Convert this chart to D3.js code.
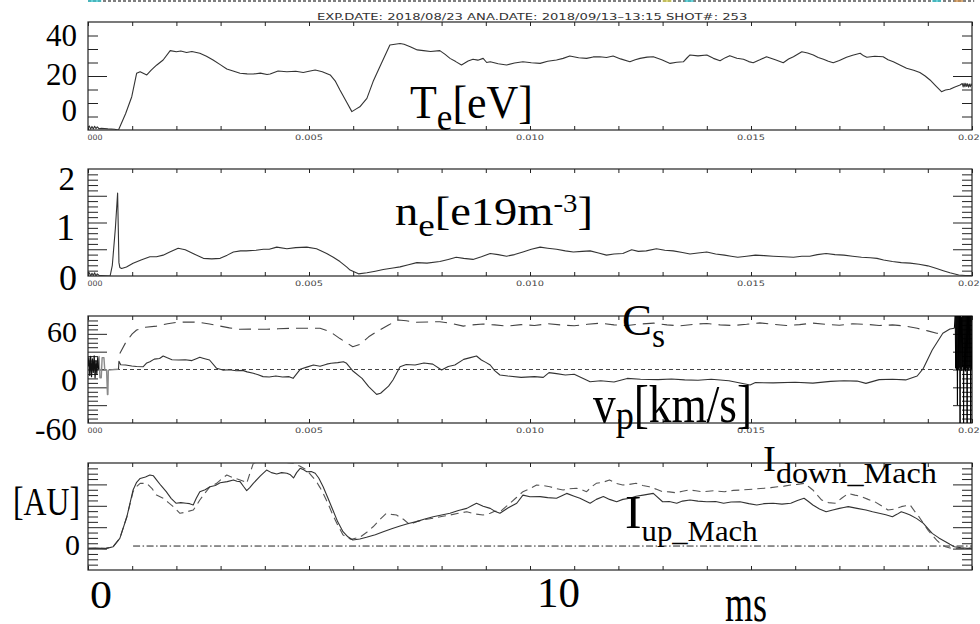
<!DOCTYPE html>
<html><head><meta charset="utf-8">
<script src="https://cdn.jsdelivr.net/npm/d3@7"></script>
<style>html,body{margin:0;padding:0;background:#fff;} svg{display:block;}</style>
</head><body>
<svg id="chart" width="980" height="624"></svg>
<script>
// ---------------- DATA ----------------
const headerText = "EXP.DATE: 2018/08/23 ANA.DATE: 2018/09/13\u201313:15   SHOT#: 253";
const xDomainMs = [0, 20];
const xMinorTicks = [0,1,2,3,4,5,6,7,8,9,10,11,12,13,14,15,16,17,18,19,20];
const xMajorTicks = [0,5,10,15,20];
// first label is cut by the frame in the original: only "000" shows
const xTickLabels = ["000","0.005","0.010","0.015","0.020"];

// panel ranges / ticks
const teRange = [-10, 50], teMinor = [-2.5,5,12.5,27.5,35,42.5], teMajor = [20];
const neRange = [0, 2], neMinor = [0.1,0.2,0.3,0.4,0.6,0.7,0.8,0.9,1.1,1.2,1.3,1.4,1.6,1.7,1.8,1.9], neMajor = [0.5,1,1.5];
const vpRange = [-90, 90], vpMinor = [-82.5,-75,-67.5,-52.5,-45,-37.5,-22.5,-15,-7.5,7.5,15,22.5,37.5,45,52.5,67.5,75,82.5], vpMajor = [-60,-30,0,30,60];
const iRange = [-1, 4], iMinor = [-0.75,-0.5,-0.25,0.25,0.5,0.75,1.25,1.5,1.75,2.25,2.5,2.75,3.25,3.5,3.75], iMajor = [0,1,2,3];

// T_e [eV] vs time [ms]
const teSeries = [[0,-9],[0.03,-7.8],[0.06,-9.5],[0.09,-8],[0.12,-9.4],[0.15,-7.9],[0.18,-9.2],[0.21,-8.3],[0.25,-9.3],[0.3,-9.1],[0.45,-9.4],[0.6,-9.6],[0.69,-10],[0.85,-1],[0.99,8.5],[1.10,21.5],[1.18,22.4],[1.33,20.6],[1.43,23.3],[1.55,26],[1.70,28.9],[1.86,34.1],[2.0,33.5],[2.1,33.9],[2.23,33.1],[2.35,33.6],[2.53,32.6],[2.68,31],[2.83,28.9],[3.0,26.2],[3.14,23.9],[3.3,22.6],[3.44,21.5],[3.6,21.2],[3.74,21.1],[3.9,21.6],[4.05,20.8],[4.12,21.1],[4.3,22.8],[4.5,22.4],[4.7,22.6],[4.87,21.9],[5.0,22.6],[5.14,23.3],[5.3,22.4],[5.48,20.6],[5.6,17],[5.70,12.2],[5.85,5.5],[5.97,0.2],[6.06,1.6],[6.15,2.9],[6.31,7.6],[6.45,16.9],[6.6,25],[6.83,37.2],[7.06,38.1],[7.15,37.6],[7.29,36.3],[7.45,34.5],[7.59,34.1],[7.75,33.6],[7.96,34.1],[8.08,32],[8.19,29.8],[8.32,28],[8.45,26.1],[8.6,28.3],[8.71,29.3],[8.82,28.8],[8.94,29.8],[9.02,27.5],[9.10,27.9],[9.28,26.8],[9.47,26.1],[9.65,27.2],[9.84,27.9],[10.03,27.4],[10.23,27],[10.4,28.2],[10.6,28.9],[10.75,29.8],[10.9,31.1],[11.1,30.1],[11.28,29.8],[11.43,30.6],[11.58,30.7],[11.73,30.3],[11.88,31.1],[12.05,29.5],[12.26,27.9],[12.38,29],[12.49,29.8],[12.65,30.5],[12.79,30.7],[12.98,29],[13.17,27],[13.32,27.6],[13.47,27.9],[13.55,30],[13.62,31.7],[13.8,31.2],[14.0,31.7],[14.15,29.8],[14.3,28.5],[14.42,30.2],[14.52,31.3],[14.68,29.9],[14.83,29.3],[14.95,28],[15.05,27.4],[15.2,29],[15.35,30.7],[15.55,29],[15.73,27.4],[15.85,29.4],[15.96,30.7],[16.15,33.5],[16.28,32.8],[16.41,31.7],[16.52,30.3],[16.64,29.3],[16.75,28.2],[16.86,27.4],[17.0,28.6],[17.16,30.4],[17.3,31.5],[17.47,32.6],[17.55,31.2],[17.62,30.4],[17.8,31],[17.99,30.7],[18.1,29],[18.22,27.9],[18.38,26],[18.52,24.3],[18.68,23.2],[18.82,21.9],[18.94,20],[19.05,17.8],[19.18,14.5],[19.31,11.3],[19.40,12.2],[19.50,12.6],[19.6,13.8],[19.73,15],[19.78,15.8],[19.8,13.9],[19.82,16],[19.84,14],[19.86,15.9],[19.88,14.2],[19.9,15.7],[19.92,13.8],[19.94,15.5],[19.96,14],[19.98,15.6],[20,14.6]];

// n_e [e19 m^-3]
const neSeries = [[0,0.02],[0.03,0.06],[0.06,0.0],[0.09,0.05],[0.12,0.01],[0.15,0.06],[0.18,0.0],[0.21,0.04],[0.25,0.01],[0.3,0.01],[0.5,0.0],[0.55,0.2],[0.62,0.9],[0.67,1.55],[0.70,0.25],[0.72,0.16],[0.76,0.14],[0.87,0.17],[1.02,0.24],[1.2,0.3],[1.40,0.36],[1.55,0.36],[1.70,0.39],[1.85,0.45],[2.04,0.52],[2.2,0.49],[2.4,0.41],[2.61,0.33],[2.8,0.32],[2.99,0.33],[3.15,0.39],[3.29,0.45],[3.45,0.47],[3.58,0.47],[3.8,0.48],[3.97,0.50],[4.1,0.50],[4.27,0.54],[4.5,0.51],[4.7,0.53],[4.95,0.54],[5.17,0.51],[5.40,0.42],[5.55,0.35],[5.70,0.27],[5.85,0.17],[5.93,0.11],[6.12,0.04],[6.31,0.06],[6.5,0.09],[6.68,0.12],[6.9,0.15],[7.06,0.17],[7.25,0.21],[7.44,0.25],[7.67,0.24],[7.96,0.27],[8.15,0.31],[8.33,0.35],[8.5,0.33],[8.71,0.31],[8.9,0.36],[9.1,0.42],[9.28,0.40],[9.47,0.37],[9.65,0.40],[9.84,0.45],[10.03,0.50],[10.23,0.54],[10.4,0.52],[10.6,0.50],[10.8,0.47],[10.98,0.45],[11.18,0.46],[11.36,0.47],[11.55,0.43],[11.73,0.39],[11.9,0.41],[12.1,0.42],[12.3,0.49],[12.45,0.46],[12.63,0.47],[12.86,0.51],[13.05,0.48],[13.24,0.47],[13.45,0.44],[13.62,0.41],[13.8,0.43],[14.0,0.45],[14.2,0.41],[14.4,0.39],[14.55,0.37],[14.7,0.35],[14.9,0.37],[15.1,0.39],[15.3,0.38],[15.5,0.37],[15.75,0.36],[15.96,0.35],[16.15,0.37],[16.33,0.37],[16.5,0.40],[16.7,0.42],[16.9,0.40],[17.1,0.39],[17.3,0.37],[17.5,0.35],[17.7,0.34],[17.85,0.33],[18.0,0.30],[18.2,0.27],[18.4,0.25],[18.6,0.24],[18.8,0.22],[19.0,0.19],[19.2,0.14],[19.35,0.10],[19.5,0.06],[19.7,0.02],[19.85,0.01],[20,0.01]];

// v_p [km/s] (solid) and C_s (dashed)
const vpSeries = [[0.69,0.5],[0.70,14],[0.74,8],[0.85,7.6],[0.99,6],[1.1,5],[1.25,4.7],[1.33,11],[1.40,13],[1.5,17.5],[1.62,18.5],[1.70,22.7],[1.78,20],[1.9,16.5],[2.05,16],[2.2,16.5],[2.35,15],[2.45,18],[2.53,20.5],[2.6,19],[2.75,16],[2.91,2],[3.05,-1],[3.2,-0.5],[3.35,-2],[3.5,-1.5],[3.6,-4],[3.74,-6.4],[3.85,-9],[3.96,-12],[4.1,-12.5],[4.25,-11],[4.4,-12.5],[4.55,-12],[4.64,-14.9],[4.80,0.3],[4.95,4],[5.1,7.6],[5.25,5.5],[5.4,9],[5.5,10.4],[5.65,11.5],[5.78,13],[5.85,10.4],[6.0,-3],[6.2,-15],[6.35,-28.9],[6.53,-41.8],[6.62,-40],[6.8,-28],[6.9,-17.7],[7.06,4.7],[7.2,8.5],[7.4,7.6],[7.6,11],[7.8,9],[8.0,-0.8],[8.15,5],[8.3,7.6],[8.5,17],[8.65,20],[8.79,22.7],[8.9,16],[9.0,12],[9.10,7.6],[9.2,-2],[9.32,-9.3],[9.5,-11],[9.8,-13.2],[10.1,-12],[10.3,-13.2],[10.43,-5.3],[10.6,-7],[10.8,-9.3],[11.0,-8],[11.36,-20.5],[11.6,-19],[11.9,-21],[12.2,-15],[12.5,-16.5],[12.9,-17],[13.2,-16],[13.5,-17.5],[13.8,-18],[14.1,-16.5],[14.5,-19],[14.98,-26],[15.1,-22],[15.5,-22.5],[16.0,-21.5],[16.4,-23],[16.8,-20],[17.1,-18.8],[17.4,-19.5],[17.6,-23.3],[17.9,-17],[18.2,-16.5],[18.5,-17.5],[18.76,-10.9],[18.9,2],[19.1,32.8],[19.34,60.9],[19.5,68],[19.6,69.3]];
const vpStartNoise = [[0,5],[0.02,20],[0.04,-10],[0.06,22],[0.08,-12],[0.1,18],[0.12,-5],[0.14,23],[0.16,-14],[0.18,15],[0.2,-8],[0.22,20],[0.24,0]];
const vpStartGray = [[0.24,0],[0.25,22],[0.27,-14],[0.3,-14],[0.32,20],[0.36,20],[0.38,-1],[0.42,-1],[0.44,-42],[0.45,-42],[0.46,-1],[0.6,0],[0.69,0.5]];
const vpEndNoise = [[19.6,69.3],[19.62,90],[19.63,2],[19.64,90],[19.65,-1],[19.66,90],[19.67,-60],[19.68,90],[19.69,0],[19.70,90],[19.71,3],[19.72,90],[19.73,-90],[19.74,90],[19.75,1],[19.76,88],[19.77,-2],[19.78,90],[19.79,4],[19.80,90],[19.81,-90],[19.82,90],[19.83,0],[19.84,90],[19.85,-3],[19.86,90],[19.87,2],[19.88,90],[19.89,-90],[19.90,90],[19.91,0],[19.92,90],[19.93,-2],[19.94,90],[19.95,3],[19.96,90],[19.97,-90],[19.98,90],[19.99,0]];
const csSeries = [[0.72,27],[0.85,45],[1.0,60],[1.1,66.5],[1.3,71],[1.55,73],[1.8,77],[2.0,79.4],[2.25,80],[2.5,79.5],[2.75,76.5],[2.99,73],[3.2,70],[3.44,67.6],[3.7,68],[4.04,67.6],[4.3,68.5],[4.57,69.3],[4.9,69.5],[5.25,69.3],[5.48,63.6],[5.7,52],[5.99,38.4],[6.15,42],[6.35,55],[6.53,63.6],[6.8,75],[7.02,83.3],[7.2,82],[7.43,79.4],[7.7,80],[7.96,80.4],[8.2,78],[8.49,73],[8.7,75],[8.94,76.5],[9.2,75],[9.5,73],[9.8,75.5],[10.1,74],[10.4,77],[10.7,75],[11.0,73.5],[11.3,76],[11.6,78],[11.9,75],[12.2,74],[12.5,76.5],[12.8,78],[13.1,75],[13.4,73.5],[13.7,76],[14.0,77.5],[14.3,75],[14.6,74],[14.9,76],[15.2,78.5],[15.5,76],[15.8,74],[16.1,75.5],[16.4,78],[16.7,76],[17.0,74.5],[17.3,77],[17.6,76],[17.9,74],[18.2,75],[18.5,73],[18.76,69.3],[19.0,65],[19.2,60.9],[19.35,60]];
const vpZeroLine = [[0,0],[20,0]];

// Mach probe currents [AU]
const iUpSeries = [[0,0.01],[0.2,0.02],[0.4,0.0],[0.57,0.09],[0.72,0.48],[0.88,1.49],[1.02,2.74],[1.1,3.1],[1.18,3.28],[1.3,3.35],[1.40,3.44],[1.48,3.4],[1.55,3.21],[1.65,2.95],[1.77,2.66],[1.88,2.35],[1.99,2.12],[2.1,2.15],[2.22,2.12],[2.3,2.1],[2.38,2.04],[2.45,2.35],[2.53,2.66],[2.65,2.75],[2.76,2.89],[2.88,2.95],[2.99,3.08],[3.15,3.13],[3.29,3.21],[3.37,3.15],[3.44,3.13],[3.52,2.9],[3.59,2.71],[3.66,2.85],[3.74,3.05],[3.9,3.4],[4.04,3.67],[4.15,3.55],[4.27,3.49],[4.38,3.55],[4.5,3.52],[4.58,3.45],[4.65,3.3],[4.72,3.55],[4.8,3.75],[4.88,3.68],[4.95,3.59],[5.05,3.6],[5.14,3.52],[5.22,3.3],[5.32,2.89],[5.43,2.35],[5.54,1.80],[5.65,1.25],[5.77,0.79],[5.88,0.55],[5.99,0.40],[6.15,0.45],[6.30,0.53],[6.5,0.65],[6.68,0.79],[6.87,0.93],[7.06,1.06],[7.25,1.17],[7.43,1.26],[7.62,1.38],[7.81,1.49],[8.0,1.57],[8.19,1.65],[8.38,1.78],[8.57,1.88],[8.68,2.0],[8.79,2.12],[8.94,1.98],[9.1,1.88],[9.2,1.75],[9.32,1.65],[9.5,1.9],[9.7,2.12],[9.84,2.5],[10.0,2.42],[10.23,2.43],[10.4,2.38],[10.6,2.35],[10.83,2.58],[11.0,2.45],[11.13,2.35],[11.36,2.12],[11.5,2.3],[11.66,2.43],[11.8,2.3],[11.96,2.19],[12.1,2.3],[12.26,2.35],[12.4,2.45],[12.56,2.5],[12.79,2.58],[13.0,2.19],[13.15,2.2],[13.32,2.12],[13.45,2.22],[13.62,2.27],[13.8,2.22],[14.0,2.19],[14.2,2.2],[14.38,2.12],[14.55,2.18],[14.75,2.19],[14.95,2.1],[15.13,2.04],[15.3,2.1],[15.5,2.12],[15.7,2.08],[15.9,2.12],[16.05,2.25],[16.2,2.35],[16.3,2.2],[16.4,2.04],[16.55,1.85],[16.7,1.72],[16.85,1.8],[17.0,1.88],[17.1,1.92],[17.2,1.96],[17.4,1.88],[17.6,1.80],[17.75,1.72],[17.9,1.65],[18.05,1.58],[18.2,1.49],[18.3,1.6],[18.4,1.72],[18.5,1.65],[18.6,1.57],[18.75,1.4],[18.9,1.18],[19.0,0.95],[19.1,0.71],[19.25,0.5],[19.4,0.32],[19.5,0.2],[19.6,0.09],[19.75,0.04],[19.9,0.01],[20,0.02]];
const iDownSeries = [[0,0.01],[0.2,0.01],[0.4,0.01],[0.57,0.09],[0.72,0.48],[0.88,1.5],[1.02,2.66],[1.1,2.9],[1.18,3.05],[1.33,3.05],[1.45,2.8],[1.55,2.5],[1.70,2.35],[1.82,2.15],[1.93,1.96],[2.08,1.65],[2.2,1.7],[2.38,1.80],[2.45,2.0],[2.53,2.27],[2.65,2.6],[2.76,2.89],[2.91,3.05],[3.02,3.25],[3.14,3.44],[3.3,3.3],[3.44,3.21],[3.52,3.15],[3.59,3.05],[3.66,3.5],[3.74,3.98],[3.9,4.06],[4.04,4.06],[4.2,4.1],[4.42,4.06],[4.55,4.0],[4.65,3.98],[4.8,3.85],[4.95,3.67],[5.06,3.4],[5.17,3.13],[5.25,2.85],[5.32,2.58],[5.43,2.1],[5.54,1.57],[5.65,1.1],[5.77,0.64],[5.87,0.5],[5.96,0.43],[6.05,0.48],[6.15,0.53],[6.3,0.75],[6.45,1.02],[6.6,1.35],[6.75,1.65],[6.87,1.6],[6.98,1.57],[7.15,1.35],[7.29,1.10],[7.36,1.2],[7.43,1.26],[7.6,1.35],[7.81,1.42],[8.0,1.5],[8.19,1.57],[8.38,1.65],[8.57,1.72],[8.75,1.62],[8.94,1.57],[9.1,1.65],[9.2,1.75],[9.32,1.72],[9.55,2.12],[9.7,2.4],[9.84,2.66],[10.0,2.8],[10.15,2.97],[10.3,2.95],[10.45,2.89],[10.6,2.8],[10.75,2.74],[10.9,2.8],[11.05,2.82],[11.17,2.75],[11.28,2.66],[11.4,2.9],[11.5,3.05],[11.65,3.1],[11.8,3.21],[11.95,3.05],[12.1,2.97],[12.25,3.0],[12.4,3.05],[12.55,2.95],[12.7,2.89],[12.85,2.78],[13.0,2.66],[13.15,2.65],[13.3,2.61],[13.45,2.68],[13.6,2.74],[13.75,2.7],[13.9,2.66],[14.15,2.7],[14.4,2.66],[14.6,2.72],[14.8,2.74],[15.05,2.78],[15.3,2.82],[15.45,2.85],[15.6,2.89],[15.75,2.92],[15.9,2.97],[16.05,3.0],[16.2,3.05],[16.3,2.9],[16.4,2.74],[16.5,2.5],[16.6,2.27],[16.75,2.15],[16.9,2.12],[17.05,2.35],[17.2,2.58],[17.35,2.5],[17.5,2.43],[17.65,2.3],[17.8,2.19],[17.95,2.0],[18.1,1.80],[18.25,1.85],[18.4,1.96],[18.5,2.0],[18.6,2.04],[18.7,1.75],[18.8,1.49],[18.9,1.18],[19.0,0.87],[19.1,0.62],[19.2,0.40],[19.3,0.2],[19.4,0.09],[19.5,0.03],[19.6,0.01],[19.8,0.01],[20,0.01]];
const iRefLine = [[1.02,0.12],[20,0.12]];

// ---------------- LAYOUT ----------------
const W = 980, H = 624, L = 88, R = 972;
const svg = d3.select("#chart");
svg.append("rect").attr("width", W).attr("height", H).attr("fill", "#fff");
const defs = svg.append("defs");
const x = d3.scaleLinear().domain(xDomainMs).range([L, R]);
const INK = "#222";
const LINE = "#333";

// top strip (cut-off border of a previous plot)
svg.append("line").attr("x1", x(0)).attr("x2", x(20.05)).attr("y1", 1).attr("y2", 1)
  .attr("stroke", "#555").attr("stroke-width", 1.5).attr("stroke-dasharray", "3,2");
[[0,0.3,"#39c6cf"],[13.0,13.2,"#d6cf55"],[13.5,13.7,"#39c6cf"],[19.1,19.3,"#39c6cf"],[19.6,19.8,"#cf8f4a"]].forEach(s=>{
  svg.append("line").attr("x1", x(s[0])).attr("x2", x(s[1])).attr("y1", 1).attr("y2", 1)
    .attr("stroke", s[2]).attr("stroke-width", 1.5);
});

const panels = [
  {top:22, bottom:130, domain:teRange, minor:teMinor, major:teMajor, tickLabels:true},
  {top:169, bottom:276, domain:neRange, minor:neMinor, major:neMajor, tickLabels:true},
  {top:316, bottom:423, domain:vpRange, minor:vpMinor, major:vpMajor, tickLabels:true},
  {top:463, bottom:570, domain:iRange, minor:iMinor, major:iMajor, tickLabels:false}
];

panels.forEach((p,i)=>{
  p.y = d3.scaleLinear().domain(p.domain).range([p.bottom, p.top]);
  defs.append("clipPath").attr("id","clip"+i).append("rect")
    .attr("x", L).attr("y", p.top).attr("width", R-L).attr("height", p.bottom-p.top);
  const g = svg.append("g").attr("color", INK);
  const strip = sel => sel.call(s => s.select(".domain").remove()).selectAll("line").attr("stroke-width", 1);
  g.append("g").attr("transform",`translate(${L},0)`).call(d3.axisLeft(p.y).tickValues(p.minor).tickSize(-10).tickFormat("")).call(strip);
  g.append("g").attr("transform",`translate(${L},0)`).call(d3.axisLeft(p.y).tickValues(p.major).tickSize(-19).tickFormat("")).call(strip);
  g.append("g").attr("transform",`translate(${R},0)`).call(d3.axisRight(p.y).tickValues(p.minor).tickSize(-10).tickFormat("")).call(strip);
  g.append("g").attr("transform",`translate(${R},0)`).call(d3.axisRight(p.y).tickValues(p.major).tickSize(-19).tickFormat("")).call(strip);
  g.append("g").attr("transform",`translate(0,${p.top})`).call(d3.axisTop(x).tickValues(xMinorTicks).tickSize(-4).tickFormat("")).call(strip);
  g.append("g").attr("transform",`translate(0,${p.bottom})`).call(d3.axisBottom(x).tickValues(xMinorTicks).tickSize(-4).tickFormat("")).call(strip);
  g.append("rect").attr("x", L).attr("y", p.top).attr("width", R-L).attr("height", p.bottom-p.top)
    .attr("fill","none").attr("stroke", INK).attr("stroke-width", 1.2);
  if (p.tickLabels) {
    xMajorTicks.forEach((v,k)=>{
      const first = k === 0;
      svg.append("text").attr("x", first ? x(v) - 0.5 : x(v)).attr("y", p.bottom + 9.5)
        .attr("text-anchor", first ? "start" : "middle")
        .attr("font-family","'DejaVu Sans',sans-serif").attr("font-size", 7.5).attr("fill","#444")
        .attr("textLength", first ? 15 : 28).attr("lengthAdjust","spacingAndGlyphs").text(xTickLabels[k]);
    });
  }
  p.plot = svg.append("g").attr("clip-path", `url(#clip${i})`);
  p.line = d3.line().x(d=>x(d[0])).y(d=>p.y(d[1]));
});

function drawSeries(p, data, opts) {
  p.plot.append("path").datum(data).attr("d", p.line).attr("fill","none")
    .attr("stroke", opts.color || LINE).attr("stroke-width", opts.width || 1.1)
    .attr("stroke-dasharray", opts.dash || null).attr("stroke-linejoin","round");
}
drawSeries(panels[0], teSeries, {});
drawSeries(panels[1], neSeries, {});
drawSeries(panels[2], vpZeroLine, {dash:"4,3", width:1, color:"#444"});
drawSeries(panels[2], csSeries, {dash:"12,7", color:"#444"});
drawSeries(panels[2], vpStartGray, {color:"#8a8a8a", width:1.4});
drawSeries(panels[2], vpStartNoise, {color:"#111", width:1.2});
drawSeries(panels[2], vpSeries, {});
drawSeries(panels[2], vpEndNoise, {color:"#000", width:1});
drawSeries(panels[3], iRefLine, {dash:"7,2.5,1.5,2.5", width:1, color:"#222"});
drawSeries(panels[3], iDownSeries, {dash:"8,5", color:"#555"});
drawSeries(panels[3], iUpSeries, {});

// ---------------- TEXT ----------------
function label(spec) {
  const t = svg.append("text").attr("x", 0).attr("y", spec.base)
    .attr("font-family", spec.family || "'Liberation Serif','Times New Roman',serif")
    .attr("font-size", spec.fs).attr("fill", spec.fill || "#000");
  let cur = 0;
  spec.parts.forEach(pt => {
    const off = pt.dy || 0;
    const ts = t.append("tspan").text(pt.t);
    if (off !== cur) ts.attr("dy", off - cur);
    if (pt.s) ts.attr("font-size", spec.fs * pt.s);
    cur = off;
  });
  const bb = t.node().getBBox();
  const sx = spec.w ? spec.w / bb.width : 1;
  const left = spec.right !== undefined ? spec.right - bb.width * sx : spec.left;
  t.attr("transform", `translate(${left - bb.x * sx},0) scale(${sx},1)`);
}

label({parts:[{t:headerText}], left:317, base:20, fs:8.5, w:431, family:"'DejaVu Sans',sans-serif", fill:"#333"});

const labels = [
  {parts:[{t:"40"}], right:77, base:46, fs:31},
  {parts:[{t:"20"}], right:77, base:85, fs:31},
  {parts:[{t:"0"}], right:77, base:121, fs:31},
  {parts:[{t:"T"},{t:"e",s:0.8,dy:12},{t:"[eV]"}], left:410, base:118, fs:47, w:123},
  {parts:[{t:"2"}], right:75, base:190, fs:33},
  {parts:[{t:"1"}], right:75, base:240, fs:38},
  {parts:[{t:"0"}], right:77, base:290, fs:36},
  {parts:[{t:"n"},{t:"e",s:0.8,dy:11},{t:"[e19m"},{t:"-3",s:0.62,dy:-13},{t:"]"}], left:395, base:225, fs:40, w:198},
  {parts:[{t:"60"}], right:77, base:342, fs:30},
  {parts:[{t:"0"}], right:77, base:391, fs:32},
  {parts:[{t:"-60"}], right:77, base:440, fs:32, w:42},
  {parts:[{t:"C"},{t:"s",s:0.75,dy:12}], left:622, base:335, fs:45, w:43},
  {parts:[{t:"v"},{t:"p",s:0.8,dy:7},{t:"[km/s]"}], left:593, base:422, fs:52, w:159},
  {parts:[{t:"[AU]"}], left:13, base:515, fs:40, w:67},
  {parts:[{t:"0"}], right:80, base:555, fs:30},
  {parts:[{t:"I"},{t:"down_Mach",s:0.83,dy:12}], left:763, base:471, fs:36, w:174},
  {parts:[{t:"I"},{t:"up_Mach",s:0.62,dy:13}], left:625, base:528, fs:47, w:133},
  {parts:[{t:"0"}], left:90, base:608, fs:40, w:22},
  {parts:[{t:"10"}], left:537, base:607, fs:42, w:43},
  {parts:[{t:"ms"}], left:725, base:621, fs:52, w:42}
];
labels.forEach(label);
</script>
</body></html>
